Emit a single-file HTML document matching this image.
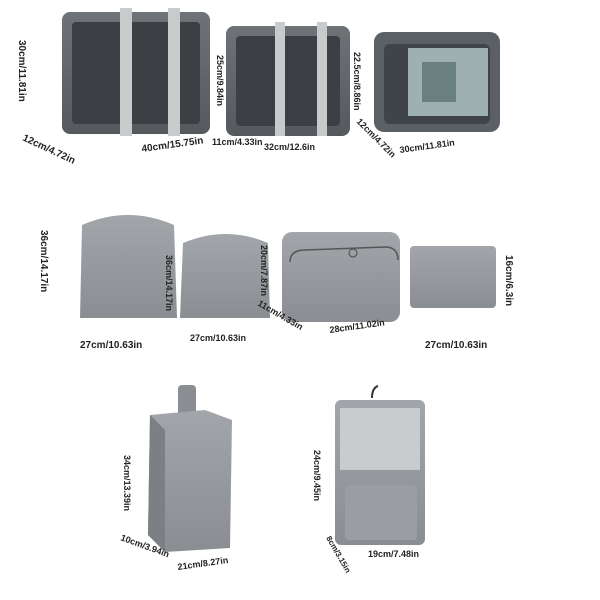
<!DOCTYPE html>
<html><head><meta charset="utf-8"><style>
html,body{margin:0;padding:0;background:#fff;}
svg{display:block}
text{font-family:"Liberation Sans",sans-serif;font-weight:bold;fill:#222;}
</style></head><body>
<svg width="600" height="600" viewBox="0 0 600 600" xmlns="http://www.w3.org/2000/svg">
<defs>
<linearGradient id="g1" x1="0" y1="0" x2="0" y2="1"><stop offset="0" stop-color="#6f7377"/><stop offset="1" stop-color="#55595d"/></linearGradient>
<linearGradient id="g2" x1="0" y1="0" x2="0" y2="1"><stop offset="0" stop-color="#a2a6aa"/><stop offset="1" stop-color="#8a8e92"/></linearGradient>
</defs>
<!-- Row 1 bag 1 -->
<rect x="62" y="12" width="148" height="122" rx="8" fill="url(#g1)"/>
<rect x="72" y="22" width="128" height="102" rx="4" fill="#3c3f43"/>
<rect x="120" y="8" width="12" height="128" fill="#c8cacc"/>
<rect x="168" y="8" width="12" height="128" fill="#c8cacc"/>
<!-- bag 2 -->
<rect x="226" y="26" width="124" height="110" rx="8" fill="url(#g1)"/>
<rect x="236" y="36" width="104" height="90" rx="4" fill="#3c3f43"/>
<rect x="275" y="22" width="10" height="114" fill="#c8cacc"/>
<rect x="317" y="22" width="10" height="114" fill="#c8cacc"/>
<!-- bag 3 -->
<rect x="374" y="32" width="126" height="100" rx="10" fill="#5a6066"/>
<rect x="384" y="44" width="106" height="80" rx="6" fill="#3f4448"/>
<rect x="408" y="48" width="80" height="68" fill="#9fb0b2"/>
<rect x="422" y="62" width="34" height="40" fill="#6a7f80"/>
<!-- Row 2 drawstring 1 -->
<path d="M82 225 Q128 205 174 225 L177 318 L80 318 Z" fill="url(#g2)"/>
<!-- drawstring 2 -->
<path d="M183 243 Q226 225 268 243 L270 318 L180 318 Z" fill="url(#g2)"/>
<!-- cube -->
<rect x="282" y="232" width="118" height="90" rx="10" fill="url(#g2)"/>
<path d="M290 262 Q290 250 305 250 L385 247 Q398 247 398 260" stroke="#555" stroke-width="1.5" fill="none"/>
<circle cx="353" cy="253" r="4" fill="none" stroke="#555" stroke-width="1.2"/>
<!-- pouch -->
<rect x="410" y="246" width="86" height="62" rx="4" fill="url(#g2)"/>
<!-- Row 3 shoe bag -->
<rect x="178" y="385" width="18" height="40" rx="4" fill="#8a8e92"/>
<path d="M150 415 L205 410 L232 420 L230 548 L165 552 L148 535 Z" fill="url(#g2)"/>
<path d="M150 415 L165 430 L165 552 L148 535 Z" fill="#7c8084"/>
<!-- toiletry -->
<rect x="335" y="400" width="90" height="145" rx="6" fill="url(#g2)"/>
<rect x="340" y="408" width="80" height="62" fill="#c9ccce"/>
<rect x="345" y="485" width="72" height="55" rx="4" fill="#9a9ea2"/>
<path d="M372 398 Q372 388 378 386" stroke="#333" stroke-width="2" fill="none"/>
<!-- labels -->
<g font-size="10">
<text transform="translate(19,40) rotate(90)">30cm/11.81in</text>
<text transform="translate(22,140) rotate(25)">12cm/4.72in</text>
<text transform="translate(142,152) rotate(-8)">40cm/15.75in</text>
<text transform="translate(217,55) rotate(90)" font-size="9">25cm/9.84in</text>
<text x="212" y="145" font-size="9">11cm/4.33in</text>
<text x="264" y="150" font-size="9">32cm/12.6in</text>
<text transform="translate(354,52) rotate(90)" font-size="9">22.5cm/8.86in</text>
<text transform="translate(356,122) rotate(45)" font-size="9">12cm/4.72in</text>
<text transform="translate(400,153) rotate(-8)" font-size="9">30cm/11.81in</text>
<text transform="translate(41,230) rotate(90)">36cm/14.17in</text>
<text x="80" y="348">27cm/10.63in</text>
<text transform="translate(166,255) rotate(90)" font-size="9">36cm/14.17in</text>
<text x="190" y="341" font-size="9">27cm/10.63in</text>
<text transform="translate(261,245) rotate(90)" font-size="9">20cm/7.87in</text>
<text transform="translate(257,305) rotate(30)" font-size="9">11cm/4.33in</text>
<text transform="translate(330,333) rotate(-8)" font-size="9">28cm/11.02in</text>
<text transform="translate(506,255) rotate(90)">16cm/6.3in</text>
<text x="425" y="348">27cm/10.63in</text>
<text transform="translate(124,455) rotate(90)" font-size="9">34cm/13.39in</text>
<text transform="translate(120,540) rotate(20)" font-size="9">10cm/3.94in</text>
<text transform="translate(178,570) rotate(-8)" font-size="9">21cm/8.27in</text>
<text transform="translate(314,450) rotate(90)" font-size="9">24cm/9.45in</text>
<text transform="translate(326,538) rotate(60)" font-size="8">8cm/3.15in</text>
<text x="368" y="557" font-size="9">19cm/7.48in</text>
</g>
</svg>
</body></html>
